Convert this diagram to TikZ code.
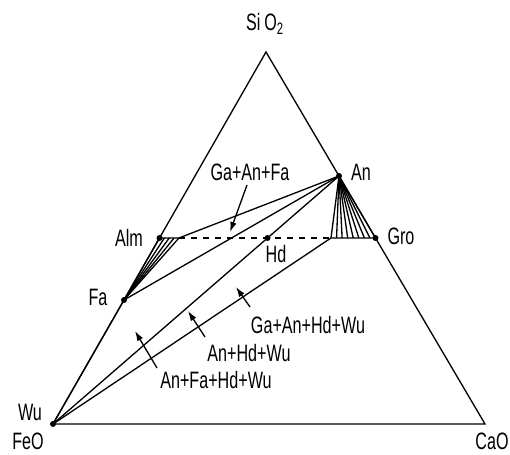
\documentclass[tikz,border=0pt]{standalone}
\usepackage{fontspec}
\setsansfont{Liberation Sans}[FakeStretch=0.68]
\usetikzlibrary{arrows.meta,positioning,calc}

\begin{document}
\begin{tikzpicture}[x=0.02cm, y=-0.02cm, line width=0.75pt,
    every node/.style={font=\sffamily\fontsize{13.5}{15}\selectfont},
    dot/.style={circle, fill, inner sep=0pt, minimum size=0.12cm},
    pointer/.style={-{Latex[length=2mm, width=1.3mm]}}]
    \useasboundingbox (0,0) rectangle (510,455);

    % Corners of the triangle
    \coordinate (FeO) at (53,424);
    \coordinate (CaO) at (485,424);
    \coordinate (SiO) at (266,52);
    \draw (FeO) -- (CaO) -- (SiO) -- cycle;

    % Phases
    \node[dot] (Wu) at (FeO) {};
    \node[dot] (Alm) at ($(FeO)!0.5!(SiO)$) {};
    \node[dot] (Gro) at ($(CaO)!0.5!(SiO)$) {};
    \node[dot] (Fa) at ($(FeO)!1/3!(SiO)$) {};
    \node[dot] (Hd) at ($(Alm)!0.5!(Gro)$) {};
    \node[dot] (An) at ($(Wu)!4/3!(Hd)$) {};
    \coordinate (AlmE) at ($(Alm)!0.09!(Gro)$);
    \coordinate (GroE) at ($(Alm)!0.794!(Gro)$);

    % Tie lines
    \draw (Alm.center) -- (AlmE);
    \draw (GroE) -- (Gro.center);
    \draw[dash pattern=on 1.2mm off 1.2mm] (AlmE) -- (GroE);
    \draw (AlmE) -- (An.center);
    \draw (Fa.center) -- (An.center);
    \draw (Wu.center) -- (An.center);
    \draw (Wu.center) -- (GroE);
    \draw (Wu.center) -- (Fa.center);
    \foreach \i in {0,...,4}
        \draw (Fa.center) -- ($(Alm)!{\i/4}!(AlmE)$);
    \foreach \i in {0,...,8}
        \draw (An.center) -- ($(GroE)!{\i/8}!(Gro)$);

    % Labels
    \node (lSiO) at (265,24) {Si\,O\textsubscript{2}};
    \node (lFeO) at (28,441) {FeO};
    \node (lCaO) at (492,441) {CaO};
    \node (lWu) at (30,412) {Wu};
    \node (lFa) at (98,297) {Fa};
    \node (lAlm) at (129,238) {Alm};
    \node (lHd) at (276,254) {Hd};
    \node (lAn) at (361,172) {An};
    \node (lGro) at (401,236) {Gro};

    % Assemblages
    \node (gaf) at (250,172) {Ga+An+Fa};
    \node (gahw) at (308,325) {Ga+An+Hd+Wu};
    \node (ahw) at (249,353) {An+Hd+Wu};
    \node (afhw) at (216,380) {An+Fa+Hd+Wu};
    \coordinate (t1) at (247,185);
    \coordinate (h1) at (230,232);
    \coordinate (t2) at (250,307);
    \coordinate (h2) at (236,287);
    \coordinate (t3) at (205,337);
    \coordinate (h3) at (188,311);
    \coordinate (t4) at (157,368);
    \coordinate (h4) at (135,331);
    \draw[pointer] (t1) -- (h1);
    \draw[pointer] (t2) -- (h2);
    \draw[pointer] (t3) -- (h3);
    \draw[pointer] (t4) -- (h4);
\end{tikzpicture}
\end{document}
